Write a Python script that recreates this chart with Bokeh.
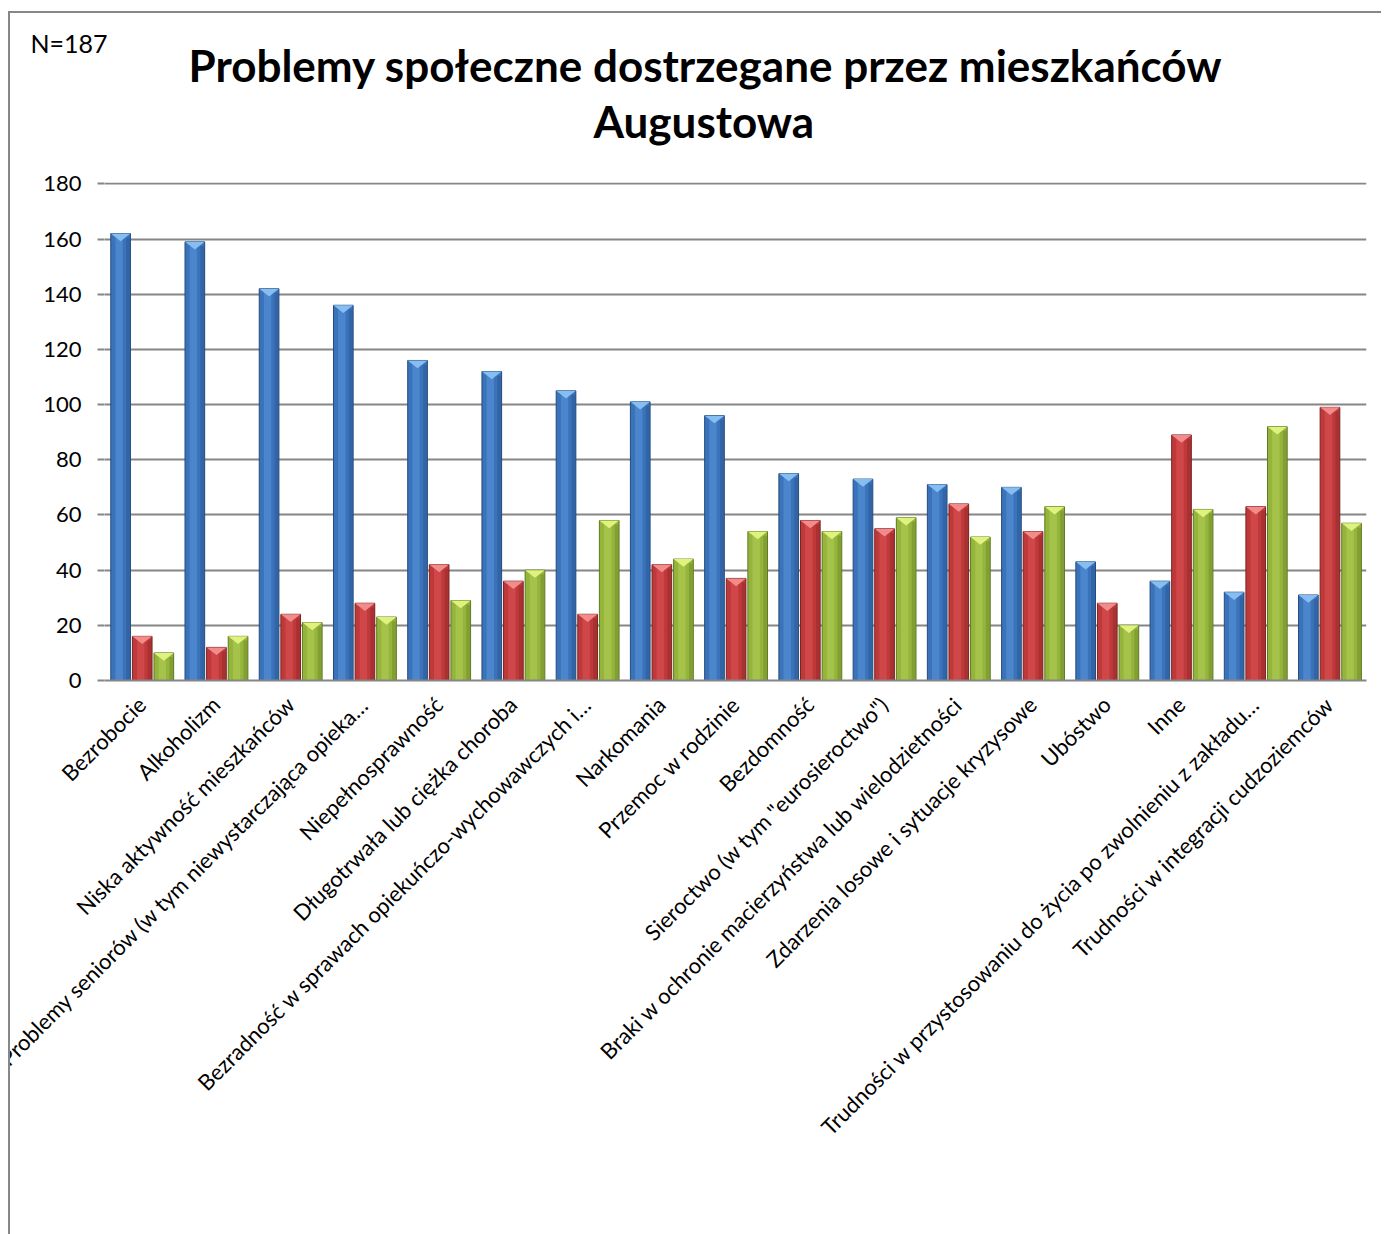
import numpy as np
from bokeh.plotting import figure
from bokeh.models import FactorRange, Range1d, Title, Legend, LegendItem, FixedTicker, ColumnDataSource
from bokeh.embed import file_html
from bokeh.resources import INLINE

categories = [
    "Bezrobocie",
    "Alkoholizm",
    "Niska aktywność mieszkańców",
    "Problemy seniorów (w tym niewystarczająca opieka…",
    "Niepełnosprawność",
    "Długotrwała lub ciężka choroba",
    "Bezradność w sprawach opiekuńczo-wychowawczych i…",
    "Narkomania",
    "Przemoc w rodzinie",
    "Bezdomność",
    "Sieroctwo (w tym \"eurosieroctwo\")",
    "Braki w ochronie macierzyństwa lub wielodzietności",
    "Zdarzenia losowe i sytuacje kryzysowe",
    "Ubóstwo",
    "Inne",
    "Trudności w przystosowaniu do życia po zwolnieniu z zakładu…",
    "Trudności w integracji cudzoziemców",
]
tak = [162, 159, 142, 136, 116, 112, 105, 101, 96, 75, 73, 71, 70, 43, 36, 32, 31]
nie = [16, 12, 24, 28, 42, 36, 24, 42, 37, 58, 55, 64, 54, 28, 89, 63, 99]
trudno = [10, 16, 21, 23, 29, 40, 58, 44, 54, 54, 59, 52, 63, 20, 62, 92, 57]
series_names = ["TAK", "NIE", "Trudno powiedzieć"]
y_ticks = [0, 20, 40, 60, 80, 100, 120, 140, 160, 180]
title_lines = ["Problemy społeczne dostrzegane przez mieszkańców", "Augustowa"]
sample_note = "N=187"

FONT = "Lato"
styles = [
    # base, edge, highlight, top bevel
    ("#3A73BA", "#244B7E", "#5A95DA", "#86BEF2"),
    ("#C0393A", "#7A2221", "#DA5454", "#F28C8C"),
    ("#94B43C", "#5E7922", "#B2D056", "#E0F27E"),
]
offsets = [-0.283, 0.008, 0.299]
bar_w = 0.265

p = figure(
    frame_width=1262, frame_height=498,
    x_range=FactorRange(factors=categories, range_padding=0, factor_padding=0),
    y_range=Range1d(0, 180.5),
    output_backend="svg", toolbar_location=None,
    min_border_left=94, min_border_right=15, min_border_top=169, min_border_bottom=548,
)
p.margin = (11, 0, 0, 8)
p.styles = {"border-left": "2px solid #878787", "border-top": "2px solid #878787"}
p.outline_line_color = None
p.background_fill_color = "white"
p.border_fill_color = "white"

centers = np.arange(len(categories)) + 0.5
items = []
for vals, name, off, (base, edge, hi, top) in zip([tak, nie, trudno], series_names, offsets, styles):
    v = np.array(vals, dtype=float)
    x = centers + off
    src = ColumnDataSource(dict(x=x, top=v))
    r = p.vbar(x="x", top="top", bottom=0, width=bar_w, source=src,
               fill_color=base, line_color=edge, line_width=1)
    p.vbar(x=x - 0.02, top=v - 1.5, bottom=0, width=0.1, fill_color=hi,
           line_color=None, fill_alpha=0.55)
    p.vbar(x=x + 0.1, top=v - 1.5, bottom=0, width=0.05, fill_color=edge,
           line_color=None, fill_alpha=0.35)
    xs = [[xi - bar_w / 2, xi + bar_w / 2, xi] for xi in x]
    ys = [[vi, vi, vi - 2.8] for vi in v]
    p.patches(xs=xs, ys=ys, fill_color=top, line_color=None)
    items.append(LegendItem(label=name, renderers=[r]))

# Axes
p.xgrid.grid_line_color = None
p.ygrid.grid_line_color = "#868686"
p.ygrid.grid_line_width = 1.8
p.yaxis.ticker = FixedTicker(ticks=y_ticks)
p.yaxis.axis_line_color = None
p.yaxis.major_tick_line_color = "#868686"
p.yaxis.major_tick_line_width = 1.8
p.yaxis.major_tick_in = 0
p.yaxis.major_tick_out = 7
p.yaxis.minor_tick_line_color = None
p.yaxis.major_label_standoff = 16
p.yaxis.major_label_text_font = FONT
p.yaxis.major_label_text_font_size = "22px"
p.yaxis.major_label_text_color = "black"

p.xaxis.axis_line_color = "#868686"
p.xaxis.axis_line_width = 2
p.xaxis.major_tick_line_color = None
p.xaxis.minor_tick_line_color = None
p.xaxis.major_label_orientation = np.pi / 4
p.xaxis.major_label_standoff = 14
p.xaxis.major_label_text_font = FONT
p.xaxis.major_label_text_font_size = "22px"
p.xaxis.major_label_text_color = "black"

# Titles (added innermost first)
p.add_layout(Title(text=title_lines[1], align="left", text_font=FONT, offset=489,
                   text_font_size="44px", text_font_style="bold", text_color="black",
                   standoff=71), "above")
p.add_layout(Title(text=title_lines[0], align="left", text_font=FONT, offset=84,
                   text_font_size="44px", text_font_style="bold", text_color="black",
                   standoff=-67), "above")
p.add_layout(Title(text=sample_note, align="left", text_font=FONT, offset=-74,
                   text_font_size="25px", text_font_style="normal", text_color="black",
                   standoff=0), "above")

legend = Legend(items=items, orientation="horizontal", location=(400, 40),
                label_text_font=FONT, label_text_font_size="22px",
                glyph_width=14, glyph_height=14, spacing=26, label_standoff=6,
                border_line_color=None, background_fill_alpha=0, margin=0, padding=4)
p.add_layout(legend, "below")

open("out.html", "w").write(file_html(p, INLINE))
